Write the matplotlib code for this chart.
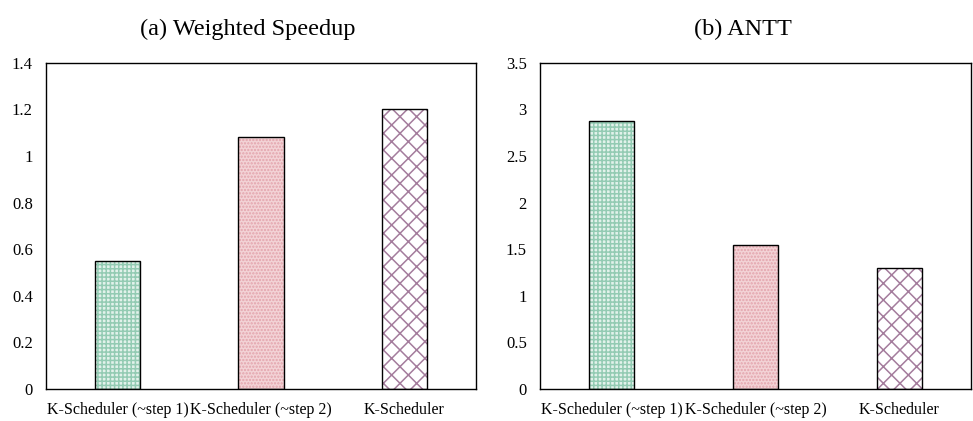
import matplotlib
matplotlib.use('Agg')
import matplotlib.pyplot as plt

plt.rcParams['font.family'] = ['Liberation Serif', 'DejaVu Serif']
plt.rcParams['hatch.linewidth'] = 1.1

labels = ['K-Scheduler (~step 1)', 'K-Scheduler (~step 2)', 'K-Scheduler']
speedup = [0.55, 1.08, 1.20]
antt = [2.88, 1.54, 1.30]

face = ['#e2f2eb', '#f3d3d6', 'white']
hatch_col = ['#93cbb3', '#e3a3ac', '#a47c9c']
hatches = ['++++', '.....', 'xx']


def draw(ax, values, title, ymax, step):
    x = range(len(values))
    for i, v in enumerate(values):
        ax.bar(i, v, width=0.315, color=face[i], edgecolor=hatch_col[i],
               hatch=hatches[i], linewidth=0)
    ax.bar(x, values, width=0.315, fill=False, edgecolor='black', linewidth=1.0)
    ax.set_xlim(-0.5, 2.5)
    ax.set_ylim(0, ymax)
    ticks = [round(step * k, 2) for k in range(int(round(ymax / step)) + 1)]
    ax.set_yticks(ticks)
    ax.set_yticklabels(['%g' % t for t in ticks], fontsize=12)
    ax.set_xticks(list(x))
    ax.set_xticklabels(labels, fontsize=11.5)
    ax.tick_params(length=0)
    ax.tick_params(axis='y', pad=9.5)
    ax.tick_params(axis='x', pad=9)
    ax.set_title(title, fontsize=17.5, pad=20, x=0.47)
    for s in ax.spines.values():
        s.set_linewidth(1.0)


fig = plt.figure(figsize=(9.73, 4.21), dpi=100)
ax1 = fig.add_axes([0.0473, 0.076, 0.442, 0.775])
ax2 = fig.add_axes([0.555, 0.076, 0.443, 0.775])
draw(ax1, speedup, '(a) Weighted Speedup', 1.4, 0.2)
draw(ax2, antt, '(b) ANTT', 3.5, 0.5)
fig.savefig('out.png', dpi=100)
